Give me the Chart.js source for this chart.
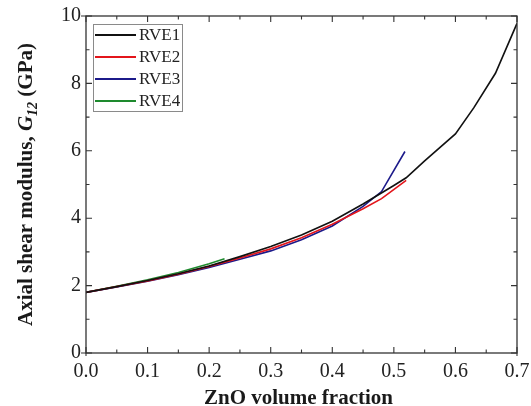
<!DOCTYPE html>
<html>
<head>
<meta charset="utf-8">
<script src="https://cdn.jsdelivr.net/npm/chart.js@4.4.1/dist/chart.umd.min.js"></script>
<style>
html,body{margin:0;padding:0;background:#fff;}
#wrap{width:531px;height:406px;position:relative;}
</style>
</head>
<body>
<div id="wrap"><canvas id="c" width="531" height="406"></canvas></div>
<script>
const seriesNames = ['RVE1', 'RVE2', 'RVE3', 'RVE4'];
const rve1X = [0, 0.05, 0.1, 0.15, 0.2, 0.25, 0.3, 0.35, 0.4, 0.45, 0.5, 0.52, 0.55, 0.6, 0.63, 0.665, 0.7];
const rve1Y = [1.8, 1.97, 2.15, 2.35, 2.58, 2.86, 3.16, 3.5, 3.91, 4.42, 4.97, 5.2, 5.7, 6.5, 7.28, 8.3, 9.78];
const rve2X = [0, 0.05, 0.1, 0.15, 0.2, 0.25, 0.3, 0.35, 0.4, 0.45, 0.48, 0.52];
const rve2Y = [1.8, 1.97, 2.14, 2.34, 2.57, 2.82, 3.09, 3.42, 3.82, 4.28, 4.58, 5.12];
const rve3X = [0, 0.05, 0.1, 0.15, 0.2, 0.25, 0.3, 0.35, 0.4, 0.45, 0.48, 0.518];
const rve3Y = [1.8, 1.96, 2.13, 2.32, 2.54, 2.78, 3.03, 3.36, 3.77, 4.35, 4.79, 5.98];
const rve4X = [0, 0.05, 0.1, 0.15, 0.2, 0.225];
const rve4Y = [1.8, 1.98, 2.17, 2.39, 2.65, 2.8];
const xTicks = [0, 0.1, 0.2, 0.3, 0.4, 0.5, 0.6, 0.7];
const xMinorTicks = [0.05, 0.15, 0.25, 0.35, 0.45, 0.55, 0.65];
const yTicks = [0, 2, 4, 6, 8, 10];
const yMinorTicks = [1, 3, 5, 7, 9];
const xTitle = 'ZnO volume fraction';
const yTitleParts = ['Axial shear modulus, ', 'G', '12', ' (GPa)'];

const colors = ['#111111', '#e3151b', '#1c1a8a', '#1e8a2e'];
const xs = [rve1X, rve2X, rve3X, rve4X];
const ys = [rve1Y, rve2Y, rve3Y, rve4Y];
const toPts = (X, Y) => X.map((x, i) => ({x: x, y: Y[i]}));

const SERIF = '"Liberation Serif", "Times New Roman", serif';

const decorPlugin = {
  id: 'decor',
  afterDatasetsDraw(chart) {
    const ctx = chart.ctx;
    const a = chart.chartArea;
    const xs_ = chart.scales.x, ys_ = chart.scales.y;
    ctx.save();
    ctx.strokeStyle = '#333';
    ctx.lineWidth = 1.3;
    ctx.strokeRect(a.left, a.top, a.right - a.left, a.bottom - a.top);
    ctx.lineWidth = 1.1;
    ctx.beginPath();
    const major = 6, minor = 3.5;
    xTicks.forEach(v => {
      const p = xs_.getPixelForValue(v);
      ctx.moveTo(p, a.bottom); ctx.lineTo(p, a.bottom - major);
      ctx.moveTo(p, a.top); ctx.lineTo(p, a.top + major);
    });
    xMinorTicks.forEach(v => {
      const p = xs_.getPixelForValue(v);
      ctx.moveTo(p, a.bottom); ctx.lineTo(p, a.bottom - minor);
      ctx.moveTo(p, a.top); ctx.lineTo(p, a.top + minor);
    });
    yTicks.forEach(v => {
      const p = ys_.getPixelForValue(v);
      ctx.moveTo(a.left, p); ctx.lineTo(a.left + major, p);
      ctx.moveTo(a.right, p); ctx.lineTo(a.right - major, p);
    });
    yMinorTicks.forEach(v => {
      const p = ys_.getPixelForValue(v);
      ctx.moveTo(a.left, p); ctx.lineTo(a.left + minor, p);
      ctx.moveTo(a.right, p); ctx.lineTo(a.right - minor, p);
    });
    ctx.moveTo(a.left, a.top); ctx.lineTo(a.left - 5, a.top);
    ctx.moveTo(a.left, a.bottom); ctx.lineTo(a.left - 5, a.bottom);
    ctx.moveTo(a.left, a.bottom); ctx.lineTo(a.left, a.bottom + 3);
    ctx.moveTo(a.right, a.bottom); ctx.lineTo(a.right, a.bottom + 3);
    ctx.stroke();

    // legend
    const lx = a.left + 7, ly = a.top + 8, lw = 89, lh = 87;
    ctx.fillStyle = '#fff';
    ctx.fillRect(lx, ly, lw, lh);
    ctx.strokeStyle = '#8a8a8a';
    ctx.lineWidth = 1;
    ctx.strokeRect(lx + 0.5, ly + 0.5, lw, lh);
    ctx.font = '17px ' + SERIF;
    ctx.textBaseline = 'middle';
    ctx.textAlign = 'left';
    chart.data.datasets.forEach((ds, i) => {
      const yy = ly + 11 + i * 22;
      ctx.strokeStyle = ds.borderColor;
      ctx.lineWidth = 1.8;
      ctx.beginPath();
      ctx.moveTo(lx + 2, yy); ctx.lineTo(lx + 43, yy);
      ctx.stroke();
      ctx.fillStyle = '#222';
      ctx.fillText(ds.label, lx + 46, yy + 1);
    });

    // x title
    ctx.fillStyle = '#1a1a1a';
    ctx.font = 'bold 21px ' + SERIF;
    ctx.textAlign = 'center';
    ctx.textBaseline = 'alphabetic';
    ctx.fillText(xTitle, (a.left + a.right) / 2 - 3, 404);

    // y title with italic subscript
    ctx.textAlign = 'left';
    const fB = 'bold 21px ' + SERIF;
    const fBI = 'italic bold 21px ' + SERIF;
    const fSub = 'italic bold 14px ' + SERIF;
    const fonts = [fB, fBI, fSub, fB];
    const widths = yTitleParts.map((t, i) => { ctx.font = fonts[i]; return ctx.measureText(t).width; });
    const total = widths.reduce((s, w) => s + w, 0);
    const cy = (a.top + a.bottom) / 2;
    ctx.translate(32, cy);
    ctx.rotate(-Math.PI / 2);
    let cx = -total / 2;
    yTitleParts.forEach((t, i) => {
      ctx.font = fonts[i];
      ctx.fillText(t, cx, i === 2 ? 5 : 0);
      cx += widths[i];
    });
    ctx.restore();
  }
};

new Chart(document.getElementById('c'), {
  type: 'scatter',
  data: {
    datasets: seriesNames.map((n, i) => ({
      label: n,
      data: toPts(xs[i], ys[i]),
      showLine: true,
      borderColor: colors[i],
      backgroundColor: colors[i],
      borderWidth: 1.6,
      pointRadius: 0,
      tension: 0,
      fill: false
    }))
  },
  options: {
    responsive: false,
    animation: false,
    devicePixelRatio: 1,
    layout: {padding: {top: 16, right: 14, left: 0, bottom: 0}},
    plugins: {legend: {display: false}, tooltip: {enabled: false}},
    scales: {
      x: {
        type: 'linear', min: 0, max: 0.7,
        afterBuildTicks: s => { s.ticks = xTicks.map(v => ({value: v})); },
        afterFit: s => { s.height = 53; s.paddingLeft = 0; s.paddingRight = 0; },
        grid: {display: false, drawTicks: false},
        border: {display: false},
        ticks: {
          padding: 7, color: '#222',
          font: {family: SERIF, size: 20},
          callback: v => Number(v).toFixed(1),
          maxRotation: 0, autoSkip: false
        },
        title: {display: false}
      },
      y: {
        type: 'linear', min: 0, max: 10,
        afterBuildTicks: s => { s.ticks = yTicks.map(v => ({value: v})); },
        afterFit: s => { s.width = 86; s.paddingTop = 0; s.paddingBottom = 0; },
        grid: {display: false, drawTicks: false},
        border: {display: false},
        ticks: {
          padding: 5, color: '#222',
          font: {family: SERIF, size: 20},
          callback: v => String(v)
        }
      }
    }
  },
  plugins: [decorPlugin]
});
</script>
</body>
</html>
